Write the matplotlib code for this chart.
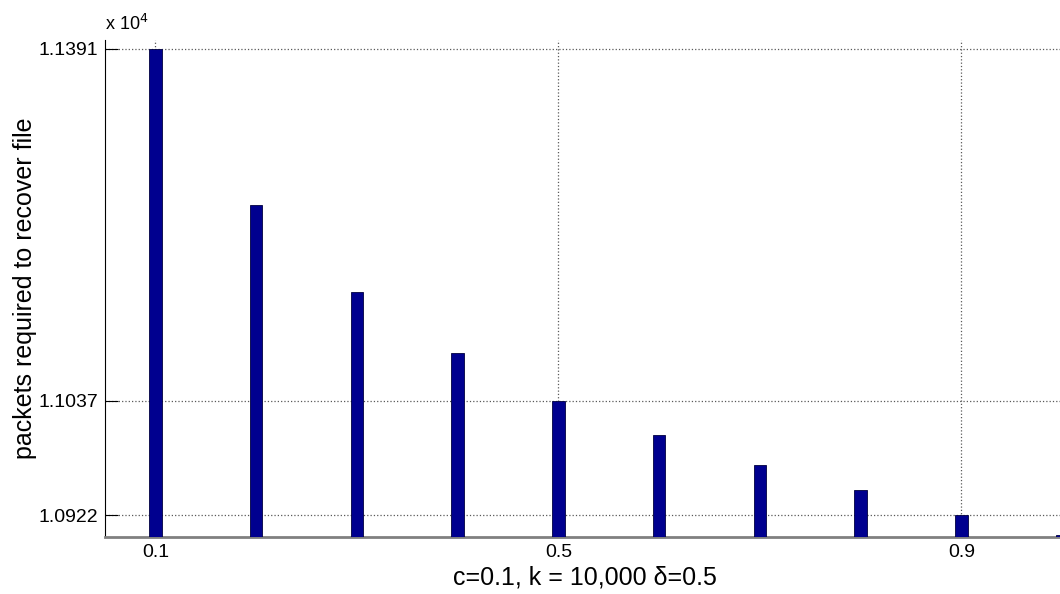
import numpy as np
import matplotlib.pyplot as plt

plt.rcParams['font.family'] = ['Liberation Sans', 'DejaVu Sans']

# datos
delta_vals = [0.1, 0.2, 0.3, 0.4, 0.5, 0.6, 0.7, 0.8, 0.9, 1.0]
packets = [11391, 11234, 11146, 11085, 11037, 11003, 10972, 10947, 10922, 10902]
y_ticks = [10922, 11037, 11391]
y_tick_labels = ["1.0922", "1.1037", "1.1391"]
x_ticks = [0.1, 0.5, 0.9]
x_tick_labels = ["0.1", "0.5", "0.9"]

fig = plt.figure(figsize=(10.6, 5.94), dpi=100)
ax = fig.add_axes([105 / 1060, 1 - 537 / 594, 960 / 1060, 497 / 594])

ax.bar(delta_vals, packets, width=0.0125, color="#00008F", edgecolor="#000040",
       linewidth=0.6, zorder=3)

ax.set_xlim(0.05, 0.05 + 960 / 1007.5)
ax.set_ylim(10900, 11400)

ax.set_xticks(x_ticks)
ax.set_xticklabels(x_tick_labels)
ax.set_yticks(y_ticks)
ax.set_yticklabels(y_tick_labels)
ax.tick_params(direction="in", length=9, width=0.8, labelsize=14, pad=5)

ax.grid(True, linestyle=":", color="0.35", linewidth=0.9, zorder=0)

ax.spines["top"].set_visible(False)
ax.spines["right"].set_visible(False)
ax.spines["left"].set_linewidth(0.8)
ax.spines["bottom"].set_color("0.5")
ax.spines["bottom"].set_linewidth(2)

ax.set_xlabel("c=0.1, k = 10,000 δ=0.5", fontsize=18, labelpad=3)
ax.set_ylabel("packets required to recover file", fontsize=18, labelpad=1)

ax.text(0.0, 1.012, r"x 10$^{4}$", transform=ax.transAxes, fontsize=13,
        ha="left", va="bottom")

plt.savefig("out.png", dpi=100)
plt.close()
